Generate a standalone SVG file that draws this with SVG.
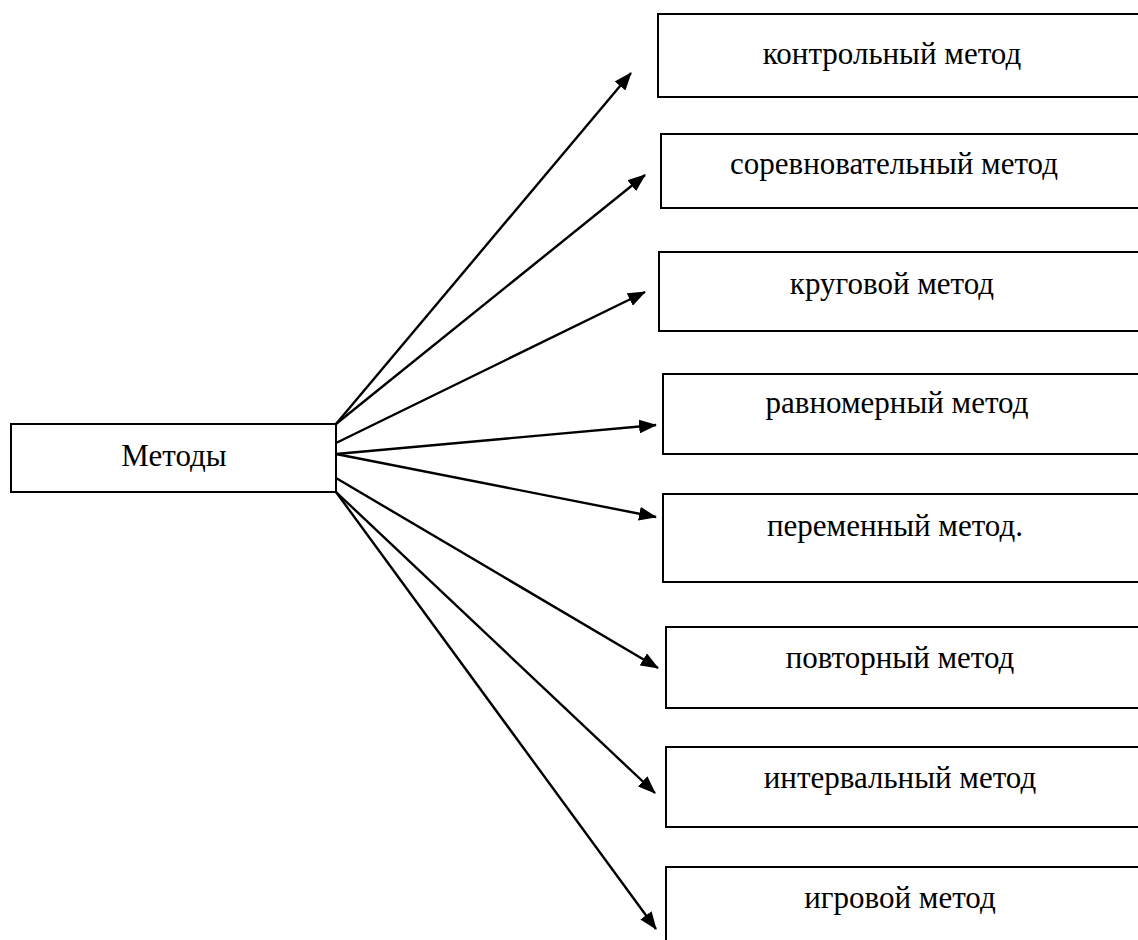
<svg xmlns="http://www.w3.org/2000/svg" width="1138" height="940" viewBox="0 0 1138 940">
<defs>
<marker id="ah" viewBox="0 0 18 14" refX="17" refY="7" markerWidth="18" markerHeight="14" markerUnits="userSpaceOnUse" orient="auto">
<path d="M0,0 L18,7 L0,14 z" fill="#000"/>
</marker>
</defs>
<style>
.box{fill:#fff;stroke:#000;stroke-width:2}
.t{font-family:"Liberation Serif","Times New Roman",serif;font-size:31px;fill:#000;text-anchor:middle}
.c{stroke:#000;stroke-width:2.4;fill:none;marker-end:url(#ah)}
</style>
<rect width="1138" height="940" fill="#fff"/>
<g id="connectors">
<line class="c" x1="336" y1="424" x2="631" y2="73"/>
<line class="c" x1="336" y1="424" x2="645" y2="175"/>
<line class="c" x1="336" y1="443" x2="645" y2="292"/>
<line class="c" x1="336" y1="454" x2="656" y2="425"/>
<line class="c" x1="336" y1="454" x2="656" y2="517"/>
<line class="c" x1="336" y1="478" x2="658" y2="668"/>
<line class="c" x1="336" y1="492" x2="655" y2="793"/>
<line class="c" x1="336" y1="492" x2="656" y2="929"/>
</g>
<g id="n0"><rect class="box" x="11" y="424" width="325" height="68"/><text class="t" x="174" y="466">Методы</text></g>
<g id="n1"><rect class="box" x="658" y="14" width="490" height="83"/><text class="t" x="892" y="64">контрольный метод</text></g>
<g id="n2"><rect class="box" x="661" y="134" width="490" height="74"/><text class="t" x="894" y="174">соревновательный метод</text></g>
<g id="n3"><rect class="box" x="659" y="252" width="490" height="79"/><text class="t" x="892" y="294">круговой метод</text></g>
<g id="n4"><rect class="box" x="663" y="374" width="490" height="80"/><text class="t" x="897" y="413">равномерный метод</text></g>
<g id="n5"><rect class="box" x="663" y="494" width="490" height="88"/><text class="t" x="895" y="536">переменный метод.</text></g>
<g id="n6"><rect class="box" x="666" y="627" width="490" height="81"/><text class="t" x="900" y="668">повторный метод</text></g>
<g id="n7"><rect class="box" x="666" y="747" width="490" height="80"/><text class="t" x="900" y="788">интервальный метод</text></g>
<g id="n8"><rect class="box" x="666" y="867" width="490" height="90"/><text class="t" x="900" y="908">игровой метод</text></g>
</svg>
